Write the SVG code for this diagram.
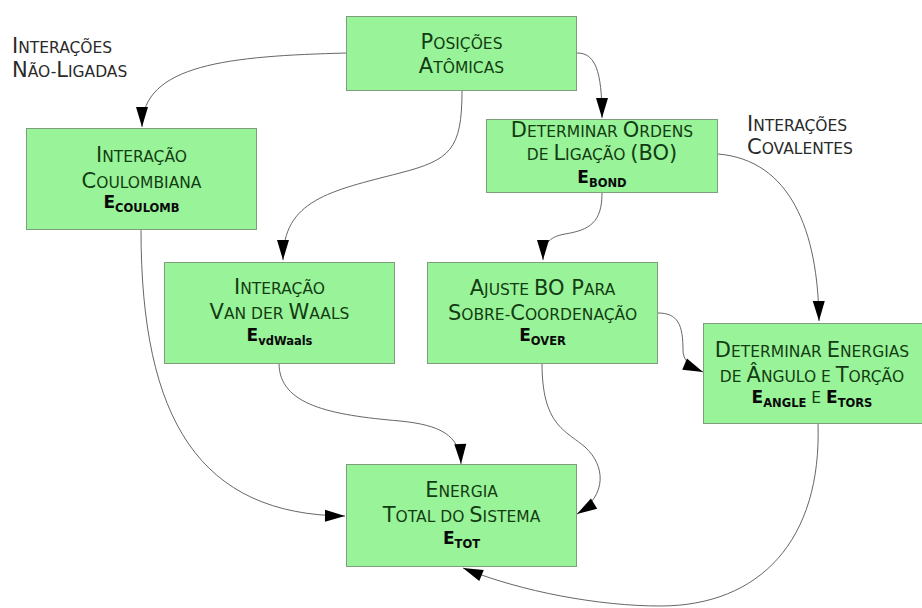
<svg xmlns="http://www.w3.org/2000/svg" width="922" height="608" viewBox="0 0 922 608">
<style>
.bg{fill:#ffffff}
.box{fill:#99f399;stroke:#7d9d7d;stroke-width:1}
.t{font-family:"DejaVu Sans","Liberation Sans",sans-serif;font-size:15.5px;fill:#123d12}
.lbl{fill:#2a2a2a}
.c{font-size:21px}
.e{font-family:"DejaVu Sans","Liberation Sans",sans-serif;font-weight:bold;font-size:17px;fill:#0a0a0a}
.s{font-size:11.5px}
.n{font-weight:normal;font-size:15.5px;fill:#123d12}
.conn path{fill:none;stroke:#555;stroke-width:0.9;marker-end:url(#ah)}
</style>
<defs>
<marker id="ah" markerUnits="userSpaceOnUse" markerWidth="20" markerHeight="12" refX="20" refY="6" orient="auto" overflow="visible">
<path d="M0,0 L20,6 L0,12 Z" fill="#000"/>
</marker>
</defs>
<rect class="bg" x="0" y="0" width="922" height="608"/>

<g id="connectors" class="conn">
<path d="M347,53 C230,56 142,64 142,127"/>
<path d="M462,91 C462,150 450,160 400,173 C330,191 283,200 283,260"/>
<path d="M577,53 C595,53 602,70 602,118"/>
<path d="M718,154 C790,160 818,230 819,321"/>
<path d="M602,193 C602,222 590,230 565,234 C548,237 543,245 543,260"/>
<path d="M658,313 C678,313 683,325 683,350 C683,360 689,366 703,372"/>
<path d="M542,363 C542,425 565,430 585,447 C605,465 608,495 577,514"/>
<path d="M818,423 C822,540 760,606 660,606 C600,606 522,592 463,568"/>
<path d="M279,363 C279,405 330,415 400,421 C440,425 460,435 461,464"/>
<path d="M141,230 C141,420 200,515 345,516"/>
</g>

<g id="label-nao-ligadas">
<text class="t lbl" x="12" y="53"><tspan class="c">I</tspan>NTERAÇÕES</text>
<text class="t lbl" x="12" y="77"><tspan class="c">N</tspan>ÃO-<tspan class="c">L</tspan>IGADAS</text>
</g>

<g id="label-covalentes">
<text class="t lbl" x="747" y="131"><tspan class="c">I</tspan>NTERAÇÕES</text>
<text class="t lbl" x="747" y="154"><tspan class="c">C</tspan>OVALENTES</text>
</g>

<g id="posicoes">
<rect class="box" x="346.5" y="16.5" width="230" height="74"/>
<text class="t" x="461.5" y="49" text-anchor="middle"><tspan class="c">P</tspan>OSIÇÕES</text>
<text class="t" x="461.5" y="73" text-anchor="middle"><tspan class="c">A</tspan>TÔMICAS</text>
</g>

<g id="coulomb">
<rect class="box" x="26.5" y="128.5" width="230" height="101"/>
<text class="t" x="141.5" y="162" text-anchor="middle"><tspan class="c">I</tspan>NTERAÇÃO</text>
<text class="t" x="141.5" y="188" text-anchor="middle"><tspan class="c">C</tspan>OULOMBIANA</text>
<text class="e" x="141.5" y="208" text-anchor="middle">E<tspan class="s" dy="4">COULOMB</tspan></text>
</g>

<g id="ordens">
<rect class="box" x="486.5" y="119.5" width="231" height="73"/>
<text class="t" x="602" y="137" text-anchor="middle"><tspan class="c">D</tspan>ETERMINAR <tspan class="c">O</tspan>RDENS</text>
<text class="t" x="602" y="160" text-anchor="middle">DE <tspan class="c">L</tspan>IGAÇÃO <tspan class="c">(BO)</tspan></text>
<text class="e" x="602" y="183" text-anchor="middle">E<tspan class="s" dy="4">BOND</tspan></text>
</g>

<g id="vdwaals">
<rect class="box" x="164.5" y="262.5" width="230" height="101"/>
<text class="t" x="279.5" y="294" text-anchor="middle"><tspan class="c">I</tspan>NTERAÇÃO</text>
<text class="t" x="279.5" y="319" text-anchor="middle"><tspan class="c">V</tspan>AN DER <tspan class="c">W</tspan>AALS</text>
<text class="e" x="279.5" y="341" text-anchor="middle">E<tspan class="s" dy="4">vdWaals</tspan></text>
</g>

<g id="ajuste">
<rect class="box" x="427.5" y="262.5" width="230" height="101"/>
<text class="t" x="542.5" y="295" text-anchor="middle"><tspan class="c">A</tspan>JUSTE <tspan class="c">BO P</tspan>ARA</text>
<text class="t" x="542.5" y="320" text-anchor="middle"><tspan class="c">S</tspan>OBRE-<tspan class="c">C</tspan>OORDENAÇÃO</text>
<text class="e" x="542.5" y="341" text-anchor="middle">E<tspan class="s" dy="4">OVER</tspan></text>
</g>

<g id="energias">
<rect class="box" x="703.5" y="323.5" width="230" height="100"/>
<text class="t" x="812" y="357" text-anchor="middle"><tspan class="c">D</tspan>ETERMINAR <tspan class="c">E</tspan>NERGIAS</text>
<text class="t" x="812" y="382" text-anchor="middle">DE <tspan class="c">Â</tspan>NGULO E <tspan class="c">T</tspan>ORÇÃO</text>
<text class="e" x="812" y="403" text-anchor="middle">E<tspan class="s" dy="4">ANGLE</tspan><tspan class="n" dy="-4"> E </tspan>E<tspan class="s" dy="4">TORS</tspan></text>
</g>

<g id="total">
<rect class="box" x="346.5" y="464.5" width="230" height="102"/>
<text class="t" x="461.5" y="497" text-anchor="middle"><tspan class="c">E</tspan>NERGIA</text>
<text class="t" x="461.5" y="522" text-anchor="middle"><tspan class="c">T</tspan>OTAL DO <tspan class="c">S</tspan>ISTEMA</text>
<text class="e" x="461.5" y="544" text-anchor="middle">E<tspan class="s" dy="4">TOT</tspan></text>
</g>
</svg>
